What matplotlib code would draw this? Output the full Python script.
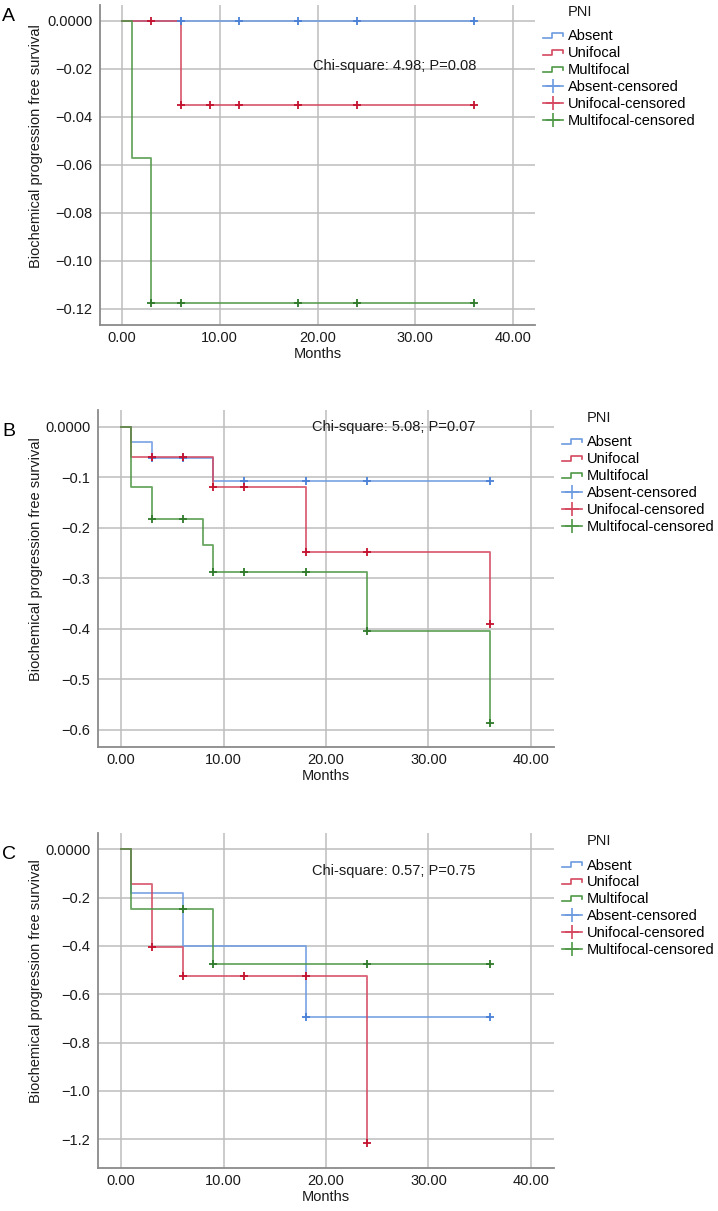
import matplotlib
matplotlib.use("Agg")
import matplotlib.pyplot as plt
import numpy as np
from matplotlib.legend_handler import HandlerBase
from matplotlib.lines import Line2D

plt.rcParams['font.family'] = ['Liberation Sans', 'DejaVu Sans']

# ---------------- data ----------------
groups = ["Absent", "Unifocal", "Multifocal"]
month_ticks = [0, 10, 20, 30, 40]
month_labels = ["0.00", "10.00", "20.00", "30.00", "40.00"]

A_yticks = [0.0, -0.02, -0.04, -0.06, -0.08, -0.10, -0.12]
A_ylabels = ["0.0000", "−0.02", "−0.04", "−0.06", "−0.08", "−0.10", "−0.12"]
A_absent_t = [0, 36]
A_absent_s = [0.0, 0.0]
A_absent_c = [6, 12, 18, 24, 36]
A_unifocal_t = [0, 6, 36]
A_unifocal_s = [0.0, -0.0353, -0.0353]
A_unifocal_c = [3, 6, 9, 12, 18, 24, 36]
A_multifocal_t = [0, 1, 3, 36]
A_multifocal_s = [0.0, -0.0571, -0.1176, -0.1176]
A_multifocal_c = [3, 6, 18, 24, 36]
A_chi = "Chi-square: 4.98; P=0.08"

B_yticks = [0.0, -0.1, -0.2, -0.3, -0.4, -0.5, -0.6]
B_ylabels = ["0.0000", "−0.1", "−0.2", "−0.3", "−0.4", "−0.5", "−0.6"]
B_absent_t = [0, 1, 3, 9, 36]
B_absent_s = [0.0, -0.031, -0.0625, -0.107, -0.107]
B_absent_c = [3, 6, 12, 18, 24, 36]
B_unifocal_t = [0, 1, 9, 18, 36]
B_unifocal_s = [0.0, -0.0606, -0.120, -0.249, -0.391]
B_unifocal_c = [3, 6, 9, 12, 18, 24, 36]
B_multifocal_t = [0, 1, 3, 8, 9, 24, 36]
B_multifocal_s = [0.0, -0.119, -0.183, -0.234, -0.288, -0.405, -0.587]
B_multifocal_c = [3, 6, 9, 12, 18, 24, 36]
B_chi = "Chi-square: 5.08; P=0.07"

C_yticks = [0.0, -0.2, -0.4, -0.6, -0.8, -1.0, -1.2]
C_ylabels = ["0.0000", "−0.2", "−0.4", "−0.6", "−0.8", "−1.0", "−1.2"]
C_absent_t = [0, 1, 6, 18, 36]
C_absent_s = [0.0, -0.182, -0.402, -0.694, -0.694]
C_absent_c = [18, 36]
C_unifocal_t = [0, 1, 3, 6, 24]
C_unifocal_s = [0.0, -0.142, -0.403, -0.523, -1.215]
C_unifocal_c = [3, 6, 12, 18, 24]
C_multifocal_t = [0, 1, 9, 36]
C_multifocal_s = [0.0, -0.249, -0.475, -0.475]
C_multifocal_c = [6, 9, 24, 36]
C_chi = "Chi-square: 0.57; P=0.75"

# ---------------- style ----------------
W, H = 718, 1211
line_colors = {"Absent": "#6d9be0", "Unifocal": "#d4475f", "Multifocal": "#4f9847"}
mark_colors = {"Absent": "#4a80d6", "Unifocal": "#c4122f", "Multifocal": "#2f7a2a"}
FS = 10.5


def fx(x):
    return x / W


def fy(y):
    return 1 - y / H


class StepLine(Line2D):
    pass


class HandlerStep(HandlerBase):
    def create_artists(self, legend, orig_handle, xdescent, ydescent,
                       width, height, fontsize, trans):
        xs = np.array([0.0, 0.45, 0.45, 0.97, 0.97]) * width - xdescent
        ys = np.array([0.22, 0.22, 0.72, 0.72, 0.45]) * height - ydescent
        ln = Line2D(xs, ys, color=orig_handle.get_color(), lw=1.2,
                    transform=trans)
        return [ln]


def step_at(t, s, c):
    t = np.asarray(t, float)
    s = np.asarray(s, float)
    idx = np.searchsorted(t, np.asarray(c, float), side="right") - 1
    return s[idx]


panels = [
    dict(letter="A", box=(100, 5, 535, 325), ylim=(-0.1268, 0.0065),
         yticks=A_yticks, ylabels=A_ylabels, chi=A_chi, chi_xy=(19.5, -0.0189),
         data={"Absent": (A_absent_t, A_absent_s, A_absent_c),
               "Unifocal": (A_unifocal_t, A_unifocal_s, A_unifocal_c),
               "Multifocal": (A_multifocal_t, A_multifocal_s, A_multifocal_c)},
         leg=(543, 12, 29.5)),
    dict(letter="B", box=(98, 410, 554, 747), ylim=(-0.634, 0.033),
         yticks=B_yticks, ylabels=B_ylabels, chi=B_chi, chi_xy=(18.6, 0.0),
         data={"Absent": (B_absent_t, B_absent_s, B_absent_c),
               "Unifocal": (B_unifocal_t, B_unifocal_s, B_unifocal_c),
               "Multifocal": (B_multifocal_t, B_multifocal_s, B_multifocal_c)},
         leg=(562, 418, 435.5)),
    dict(letter="C", box=(98, 833, 554, 1168), ylim=(-1.319, 0.067),
         yticks=C_yticks, ylabels=C_ylabels, chi=C_chi, chi_xy=(18.6, -0.091),
         data={"Absent": (C_absent_t, C_absent_s, C_absent_c),
               "Unifocal": (C_unifocal_t, C_unifocal_s, C_unifocal_c),
               "Multifocal": (C_multifocal_t, C_multifocal_s, C_multifocal_c)},
         leg=(562, 841, 858.5)),
]

fig = plt.figure(figsize=(W / 100, H / 100), dpi=100)

for p in panels:
    l, t, r, b = p["box"]
    ax = fig.add_axes([fx(l), fy(b), fx(r) - fx(l), (b - t) / H])
    ax.set_xlim(-2.25, 42.25)
    ax.set_ylim(*p["ylim"])
    ax.set_xticks(month_ticks)
    ax.set_xticklabels(month_labels)
    ax.set_yticks(p["yticks"])
    ax.set_yticklabels(p["ylabels"])
    ax.tick_params(axis="both", length=0, labelsize=FS, colors="#1a1a1a")
    ax.tick_params(axis="y", pad=5.5)
    ax.tick_params(axis="x", pad=4)
    ax.grid(True, color="#bdbdbd", lw=1.1)
    ax.set_axisbelow(True)
    for sp in ["top", "right"]:
        ax.spines[sp].set_visible(False)
    for sp in ["left", "bottom"]:
        ax.spines[sp].set_color("#8a8a8a")
        ax.spines[sp].set_linewidth(1.3)

    for g in ["Absent", "Unifocal", "Multifocal"]:
        tt, ss, cc = p["data"][g]
        ax.step(tt, ss, where="post", color=line_colors[g], lw=1.3, alpha=0.85)
    for g in ["Absent", "Unifocal", "Multifocal"]:
        tt, ss, cc = p["data"][g]
        ax.plot(cc, step_at(tt, ss, cc), ls="none", marker="+", ms=6, mew=1.3,
                color=mark_colors[g])

    ax.text(p["chi_xy"][0], p["chi_xy"][1], p["chi"], ha="left", va="center",
            fontsize=FS, color="#1a1a1a")
    ax.set_xlabel("Months", fontsize=FS, labelpad=2, color="#1a1a1a")

    fig.text(fx(36), fy((t + b) / 2 - 19), "Biochemical progression free survival",
             rotation=90, ha="center", va="center", fontsize=FS, color="#1a1a1a")
    fig.text(fx(2), fy(t + 16 if p["letter"] == "A" else t + 26), p["letter"],
             ha="left", va="baseline", fontsize=14, color="black")

    lx, ptitle_y, ly = p["leg"]
    handles, labels = [], []
    for g in groups:
        handles.append(StepLine([], [], color=line_colors[g]))
        labels.append(g)
    for g in groups:
        handles.append(Line2D([], [], color=line_colors[g], lw=1.2, marker="+",
                              ms=10, mew=1.2, markeredgecolor=line_colors[g]))
        labels.append(g + "-censored")
    leg = fig.legend(handles, labels, loc="upper left",
                     bbox_to_anchor=(fx(lx), fy(ly)), frameon=False,
                     fontsize=FS, borderpad=0, borderaxespad=0,
                     handlelength=1.4, handletextpad=0.3, labelspacing=0.2,
                     handler_map={StepLine: HandlerStep()})
    fig.text(fx(lx + 25), fy(ptitle_y), "PNI", ha="left", va="center",
             fontsize=FS, color="#1a1a1a")

fig.savefig("out.png", dpi=100)
